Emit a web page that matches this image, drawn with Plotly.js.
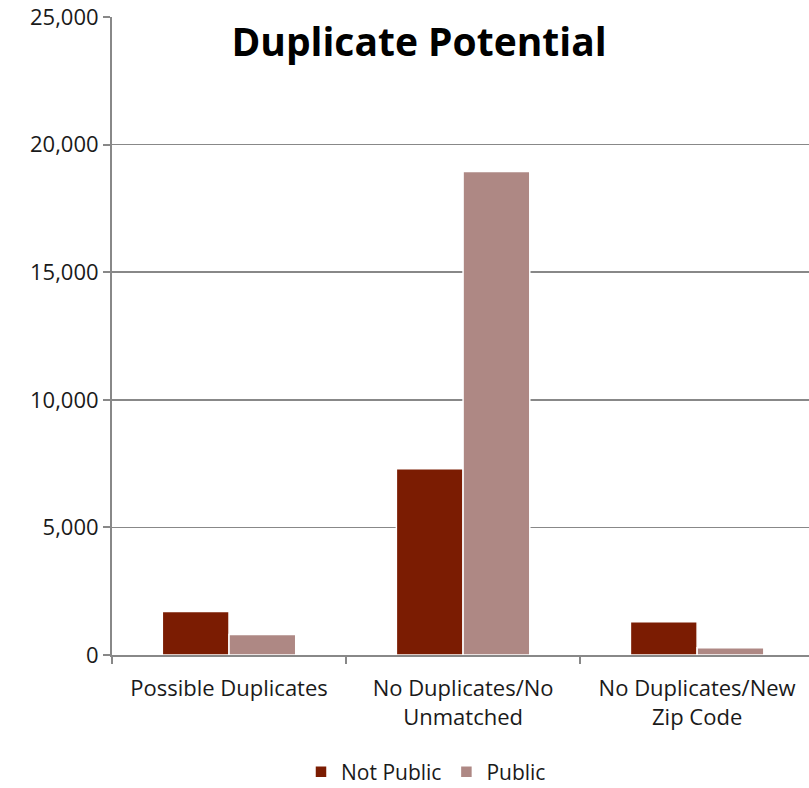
<!DOCTYPE html>
<html>
<head>
<meta charset="utf-8">
<script src="https://cdn.plot.ly/plotly-3.0.1.min.js"></script>
<style>html,body{margin:0;padding:0;background:#fff;}#chart{width:809px;height:788px;}</style>
</head>
<body>
<div id="chart"></div>
<script>
var categories = ["Possible Duplicates", "No Duplicates/No<br>Unmatched", "No Duplicates/New<br>Zip Code"];
var notPublic = [1700, 7300, 1300];
var publicVals = [800, 18950, 280];
var seriesNames = ["Not Public", "Public"];
var yTickVals = [0, 5000, 10000, 15000, 20000, 25000];
var yTickText = ["0", "5,000", "10,000", "15,000", "20,000", "25,000"];

var font = "Open Sans, Noto Sans, sans-serif";
var traces = [
  {type: "bar", name: seriesNames[0], x: categories, y: notPublic,
   marker: {color: "#7B1C02", line: {color: "#ffffff", width: 1.5}}},
  {type: "bar", name: seriesNames[1], x: categories, y: publicVals,
   marker: {color: "#AE8884", line: {color: "#ffffff", width: 1.5}}}
];
var layout = {
  width: 809, height: 788,
  margin: {l: 112, r: 0, t: 17, b: 133},
  paper_bgcolor: "#ffffff", plot_bgcolor: "#ffffff",
  barmode: "group", bargap: 0.43, bargroupgap: 0.0,
  title: {text: "<b>Duplicate Potential</b>", font: {family: font, size: 39, color: "#000"},
          x: 419 / 809, xref: "container", y: 1 - 42 / 788, yref: "container", xanchor: "center", yanchor: "middle"},
  xaxis: {type: "category", range: [-0.5, 2.478], showline: true, linecolor: "#888", linewidth: 2,
          ticks: "outside", tickson: "boundaries", ticklen: 7, tickcolor: "#888", tickwidth: 2,
          ticklabelstandoff: 13, automargin: false,
          tickfont: {family: font, size: 22, color: "#1a1a1a"}, showgrid: false, zeroline: false},
  yaxis: {range: [0, 25000], tickvals: yTickVals, ticktext: yTickText, showline: true, linecolor: "#888", linewidth: 2,
          ticks: "outside", ticklen: 7, tickcolor: "#888", tickwidth: 2, automargin: false,
          gridcolor: "#888", gridwidth: 1.5, zeroline: false,
          tickfont: {family: font, size: 22, color: "#1a1a1a"}},
  legend: {orientation: "h", x: 426 / 809, xref: "container", xanchor: "center",
           y: 1 - 772 / 788, yref: "container", yanchor: "middle",
           font: {family: font, size: 21, color: "#1a1a1a"}, itemwidth: 30},
  showlegend: true
};
Plotly.newPlot("chart", traces, layout, {displayModeBar: false, staticPlot: true});
</script>
</body>
</html>
